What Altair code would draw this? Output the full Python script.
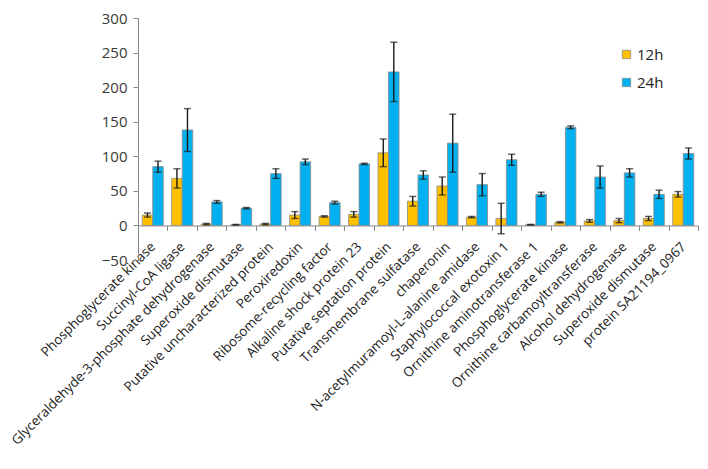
import json
import altair as alt
import pandas as pd

categories = [
    "Phosphoglycerate kinase",
    "Succinyl-CoA ligase",
    "Glyceraldehyde-3-phosphate dehydrogenase",
    "Superoxide dismutase",
    "Putative uncharacterized protein",
    "Peroxiredoxin",
    "Ribosome-recycling factor",
    "Alkaline shock protein 23",
    "Putative septation protein",
    "Transmembrane sulfatase",
    "chaperonin",
    "N-acetylmuramoyl-L-alanine  amidase",
    "Staphylococcal exotoxin 1",
    "Ornithine aminotransferase  1",
    "Phosphoglycerate kinase",
    "Ornithine carbamoyltransferase",
    "Alcohol dehydrogenase",
    "Superoxide dismutase",
    "protein SA21194_0967",
]
series_names = ["12h", "24h"]
values_12h = [15, 68, 2, 1, 2, 15, 13, 16, 105, 35, 57, 12, 10, 1, 4.5, 6.5, 7, 10, 45]
errors_12h = [3, 14, 1, 0.5, 1, 5, 1, 4, 20, 7, 13, 1, 22, 0.5, 1, 2, 3, 3, 4]
values_24h = [85, 138, 34, 25, 75, 92, 33, 89, 222, 73, 119, 59, 95, 45, 142, 70, 76, 45, 104]
errors_24h = [8, 31, 2, 1, 7, 4, 2, 1, 43, 6, 42, 16, 8, 3, 2, 16, 6, 6, 8]
y_ticks = [-50, 0, 50, 100, 150, 200, 250, 300]

rows = []
for i, name in enumerate(categories):
    for s, vals, errs in ((series_names[0], values_12h, errors_12h),
                          (series_names[1], values_24h, errors_24h)):
        v, e = vals[i], errs[i]
        rows.append({"idx": i, "series": s, "value": v, "lo": v - e, "hi": v + e})
df = pd.DataFrame(rows)

label_expr = json.dumps(categories) + "[datum.value]"

plot_h = 242
x_axis = alt.Axis(
    labelExpr=label_expr,
    labelAngle=-45,
    labelAlign="right",
    labelBaseline="middle",
    labelFont="Open Sans",
    labelFontSize=13.4,
    labelColor="#1a1a1a",
    labelPadding=14,
    labelLimit=500,
    tickBand="extent",
    tickSize=5,
    tickColor="#868686",
    domainColor="#868686",
    offset=-plot_h * 50 / 350,
    labelOverlap=False,
)
y_axis = alt.Axis(
    values=y_ticks,
    grid=False,
    labelFont="Open Sans",
    labelFontSize=15,
    labelColor="#3a3a3a",
    labelPadding=6,
    labelOverlap=False,
    labelFlush=False,
    tickSize=5,
    tickColor="#868686",
    domainColor="#868686",
)
x_scale = alt.Scale(paddingInner=0, paddingOuter=0)
y_scale = alt.Scale(domain=[-50, 300], nice=False)

x_enc = alt.X("idx:O", title=None, scale=x_scale, axis=x_axis)
xoff = alt.XOffset("series:N", scale=alt.Scale(paddingOuter=0.4, paddingInner=0))

bars = alt.Chart(df).mark_bar(stroke="#8a8a8a", strokeWidth=0.8).encode(
    x=x_enc,
    xOffset=xoff,
    y=alt.Y("value:Q", scale=y_scale, title=None, axis=y_axis),
    color=alt.Color(
        "series:N",
        scale=alt.Scale(domain=series_names, range=["#FFC000", "#00B0F0"]),
        legend=alt.Legend(
            title=None,
            orient="none",
            legendX=481,
            legendY=29,
            symbolType="square",
            symbolSize=70,
            symbolStrokeColor="#8a8a8a",
            symbolStrokeWidth=0.8,
            labelFont="Open Sans",
            labelFontSize=15,
            labelColor="#222222",
            rowPadding=12,
            labelOffset=3,
        ),
    ),
)

rules = alt.Chart(df).mark_rule(color="#1a1a1a", strokeWidth=1.4).encode(
    x=x_enc,
    xOffset=xoff,
    y=alt.Y("lo:Q", scale=y_scale, title=None, axis=y_axis),
    y2="hi:Q",
)
caps_lo = alt.Chart(df).mark_tick(color="#1a1a1a", thickness=1.4, size=7).encode(
    x=x_enc,
    xOffset=xoff,
    y=alt.Y("lo:Q", scale=y_scale, title=None, axis=y_axis),
)
caps_hi = alt.Chart(df).mark_tick(color="#1a1a1a", thickness=1.4, size=7).encode(
    x=x_enc,
    xOffset=xoff,
    y=alt.Y("hi:Q", scale=y_scale, title=None, axis=y_axis),
)

chart = (
    alt.layer(bars, rules, caps_lo, caps_hi)
    .properties(
        width=560,
        height=plot_h,
        background="white",
        autosize=alt.AutoSizeParams(type="none"),
        padding={"left": 130, "top": 10, "right": 2, "bottom": 201},
    )
    .configure_view(stroke=None)
    .configure_axis(labelOverlap=False)
)

chart.save("out.html", embed_options={"renderer": "svg", "actions": False})
